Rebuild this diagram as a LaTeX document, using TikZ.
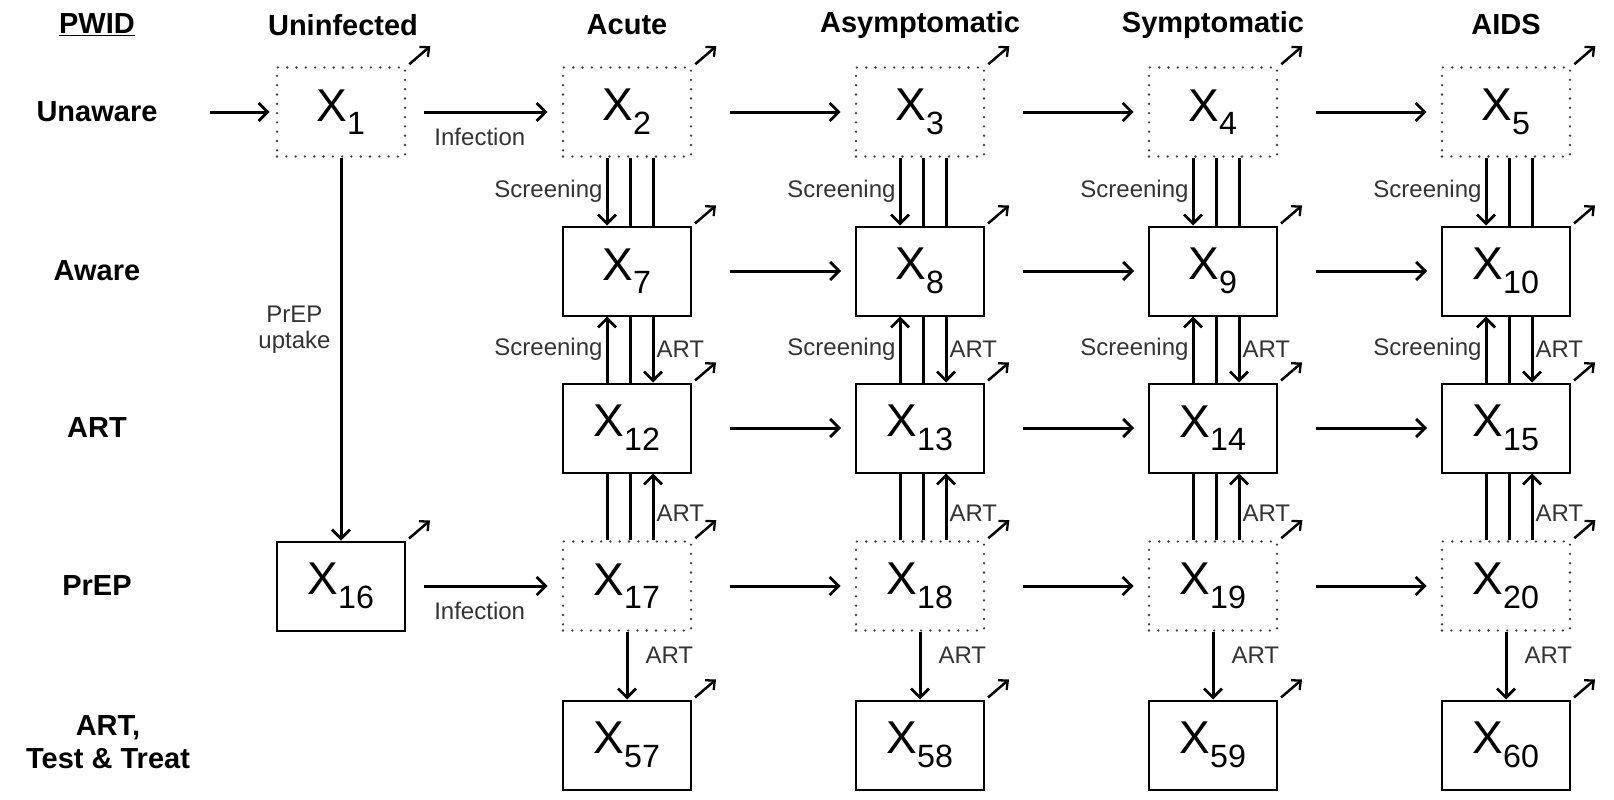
\documentclass[tikz,border=0pt]{standalone}
\usepackage{fontspec}
\setmainfont{Liberation Sans}
\usetikzlibrary{arrows.meta,calc}
\begin{document}
\begin{tikzpicture}[x=1pt,y=-1pt,
  box/.style={draw,line width=2pt,minimum width=128pt,minimum height=89pt,inner sep=0pt,font=\fontsize{46}{46}\selectfont},
  dbox/.style={box,draw=black!75,line width=2.6pt,line cap=round,dash pattern=on 0pt off 9.3pt},
  arr/.style={line width=3pt,-{Straight Barb[length=9pt,width=18pt,line width=2.8pt]}},
  ln/.style={line width=3pt},
  hdr/.style={font=\fontsize{29}{33}\selectfont\bfseries,align=center},
  lab/.style={font=\fontsize{24}{26}\selectfont,text=black!80,inner sep=1pt,align=center},
  outfl/.style={line width=2.5pt,-{Straight Barb[length=7pt,width=13pt,line width=2.3pt]}}]
\useasboundingbox (0,0) rectangle (1614,800);
% headers
\node[hdr] (pwid) at (97,25) {\underline{PWID}};
\node[hdr] (h1) at (343,25) {Uninfected};
\node[hdr] (h2) at (627,25) {Acute};
\node[hdr] (h3) at (920,25) {Asymptomatic};
\node[hdr] (h4) at (1213,25) {Symptomatic};
\node[hdr] (h5) at (1506,25) {AIDS};
\node[hdr] (r1) at (97,112) {Unaware};
\node[hdr] (r2) at (97,271) {Aware};
\node[hdr] (r3) at (97,428) {ART};
\node[hdr] (r4) at (97,586) {PrEP};
\node[hdr] (r5) at (108,742) {ART,\\Test \& Treat};
% uninfected
\node[dbox] (x1) at (341,112) {X$_{\mathrm{1}}$};
\node[box] (x16) at (341,586) {X$_{\mathrm{16}}$};
\coordinate (in) at (210,112);
\draw[arr] (in) -- ([xshift=-6pt]x1.west);
\draw[arr] (x1.south) -- (x16.north) node[lab,pos=0.45,left=8pt] (pu) {PrEP\\uptake};
\foreach \i/\c in {1/627,2/920,3/1213,4/1506}{
  \pgfmathtruncatemacro{\a}{\i+1}
  \pgfmathtruncatemacro{\b}{\i+6}
  \pgfmathtruncatemacro{\r}{\i+11}
  \pgfmathtruncatemacro{\p}{\i+16}
  \pgfmathtruncatemacro{\t}{\i+56}
  \node[dbox] (x\a) at (\c,112) {X$_{\mathrm{\a}}$};
  \node[box] (x\b) at (\c,271) {X$_{\mathrm{\b}}$};
  \node[box] (x\r) at (\c,428) {X$_{\mathrm{\r}}$};
  \node[dbox] (x\p) at (\c,586) {X$_{\mathrm{\p}}$};
  \node[box] (x\t) at (\c,745) {X$_{\mathrm{\t}}$};
  % gap 1
  \draw[arr] ([xshift=-20pt]x\a.south) -- ([xshift=-20pt]x\b.north) node[lab,midway,left=2pt] {Screening};
  \draw[ln] ([xshift=3pt]x\a.south) -- ([xshift=3pt]x\b.north);
  \draw[ln] ([xshift=26pt]x\a.south) -- ([xshift=26pt]x\b.north);
  % gap 2
  \draw[arr] ([xshift=-20pt]x\r.north) -- ([xshift=-20pt]x\b.south) node[lab,midway,left=2pt] {Screening};
  \draw[ln] ([xshift=3pt]x\b.south) -- ([xshift=3pt]x\r.north);
  \draw[arr] ([xshift=26pt]x\b.south) -- ([xshift=26pt]x\r.north) node[lab,midway,right=1pt] {ART};
  % gap 3
  \draw[ln] ([xshift=-20pt]x\p.north) -- ([xshift=-20pt]x\r.south);
  \draw[ln] ([xshift=3pt]x\p.north) -- ([xshift=3pt]x\r.south);
  \draw[arr] ([xshift=26pt]x\p.north) -- ([xshift=26pt]x\r.south) node[lab,pos=0.4,right=1pt] {ART};
  % gap 4
  \draw[arr] (x\p.south) -- (x\t.north) node[lab,pos=0.35,right=16pt] {ART};
}
% horizontal arrows
\draw[arr] ([xshift=18pt]x1.east) -- ([xshift=-14pt]x2.west) node[lab,below=14pt,pos=0.45] {Infection};
\draw[arr] ([xshift=18pt]x16.east) -- ([xshift=-14pt]x17.west) node[lab,below=14pt,pos=0.45] {Infection};
\foreach \a/\b in {2/3,3/4,4/5,7/8,8/9,9/10,12/13,13/14,14/15,17/18,18/19,19/20}{
  \draw[arr] ([xshift=38pt]x\a.east) -- ([xshift=-14pt]x\b.west);
}
% outflow arrows
\foreach \n in {1,2,3,4,5,7,8,9,10,12,13,14,15,16,17,18,19,20,57,58,59,60}{
  \draw[outfl] ([shift={(3pt,2pt)}]x\n.north east) -- ([shift={(24pt,20pt)}]x\n.north east);
}
\end{tikzpicture}
\end{document}
